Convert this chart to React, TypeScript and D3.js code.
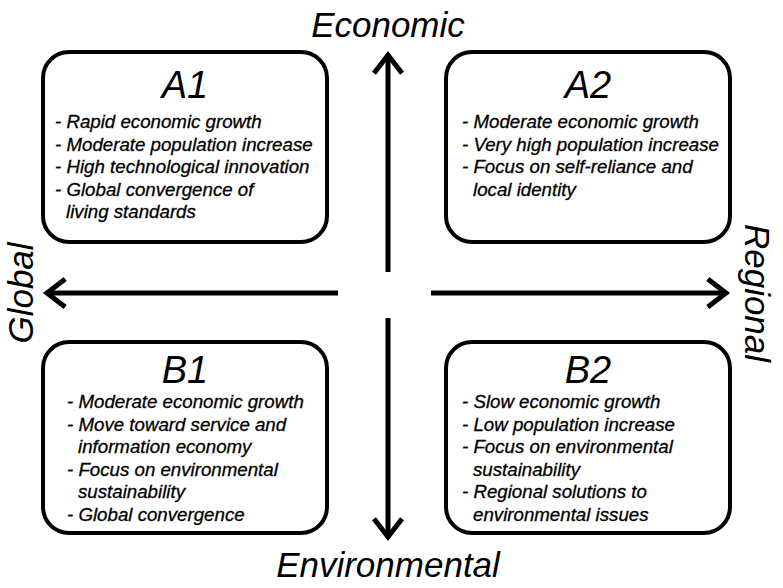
import React from "react";
import * as d3 from "d3";

const quadrantIds = ["A1", "A2", "B1", "B2"];
const quadrantLines: string[][] = [
  ["- Rapid economic growth", "- Moderate population increase", "- High technological innovation", "- Global convergence of", "  living standards"],
  ["- Moderate economic growth", "- Very high population increase", "- Focus on self-reliance and", "  local identity"],
  ["- Moderate economic growth", "- Move toward service and", "  information economy", "- Focus on environmental", "  sustainability", "- Global convergence"],
  ["- Slow economic growth", "- Low population increase", "- Focus on environmental", "  sustainability", "- Regional solutions to", "  environmental issues"],
];
const axisLabels = ["Economic", "Environmental", "Global", "Regional"];

const W = 783, H = 588;
const x = d3.scaleLinear().domain([0, 1]).range([0, W]);
const font = "'Liberation Sans', Arial, sans-serif";

export default function App() {
  const boxes = [
    { x0: 43, x1: 327, y0: 52, y1: 242, dash: 55, title: 98, first: 128 },
    { x0: 446, x1: 730, y0: 52, y1: 242, dash: 462, title: 98, first: 128 },
    { x0: 43, x1: 327, y0: 342, y1: 533, dash: 67, title: 383, first: 408 },
    { x0: 446, x1: 730, y0: 342, y1: 533, dash: 462, title: 383, first: 408 },
  ];
  const cx = 388, cy = 293;
  const a = 14;
  return (
    <svg width={W} height={H} style={{ position: "absolute", left: 0, top: 0, background: "#fff" }}>
      {boxes.map((b, i) => (
        <g key={quadrantIds[i]}>
          <rect x={b.x0} y={b.y0} width={b.x1 - b.x0} height={b.y1 - b.y0} rx={26} ry={26} fill="#fff" stroke="#000" strokeWidth={4} />
          <text x={(b.x0 + b.x1) / 2} y={b.title} textAnchor="middle" fontFamily={font} fontStyle="italic" fontSize={38}>{quadrantIds[i]}</text>
          {quadrantLines[i].map((l, j) => {
            const cont = l.startsWith("  ");
            return (
              <text key={j} x={b.dash + (cont ? 11 : 0)} y={b.first + j * 22.6} fontFamily={font} fontStyle="italic" fontSize={18.7} stroke="#000" strokeWidth={0.3}>{l.trim()}</text>
            );
          })}
        </g>
      ))}
      <g stroke="#000" strokeWidth={5} fill="none" strokeLinecap="butt">
        <line x1={cx} y1={58} x2={cx} y2={272} />
        <polyline points={`${cx - a},${55 + a * 1.3} ${cx},${55} ${cx + a},${55 + a * 1.3}`} />
        <line x1={cx} y1={318} x2={cx} y2={534} />
        <polyline points={`${cx - a},${537 - a * 1.3} ${cx},${537} ${cx + a},${537 - a * 1.3}`} />
        <line x1={50} y1={cy} x2={338} y2={cy} />
        <polyline points={`${47 + a * 1.3},${cy - a} ${47},${cy} ${47 + a * 1.3},${cy + a}`} />
        <line x1={431} y1={cy} x2={723} y2={cy} />
        <polyline points={`${726 - a * 1.3},${cy - a} ${726},${cy} ${726 - a * 1.3},${cy + a}`} />
      </g>
      <text x={x(0.4955)} y={37} textAnchor="middle" fontFamily={font} fontStyle="italic" fontSize={35}>{axisLabels[0]}</text>
      <text x={cx} y={577} textAnchor="middle" fontFamily={font} fontStyle="italic" fontSize={35}>{axisLabels[1]}</text>
      <text transform={`translate(33,${cy}) rotate(-90)`} textAnchor="middle" fontFamily={font} fontStyle="italic" fontSize={35}>{axisLabels[2]}</text>
      <text transform={`translate(745,${cy}) rotate(90)`} textAnchor="middle" fontFamily={font} fontStyle="italic" fontSize={35}>{axisLabels[3]}</text>
    </svg>
  );
}
